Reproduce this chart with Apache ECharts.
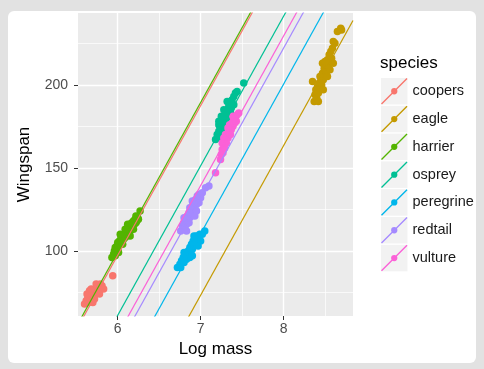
<!DOCTYPE html>
<html>
<head>
<meta charset="utf-8">
<script src="https://cdn.jsdelivr.net/npm/echarts@6/dist/echarts.min.js"></script>
<style>
  html, body { margin: 0; padding: 0; background: #e2e2e2; }
  #chart { width: 484px; height: 369px; }
</style>
</head>
<body>
<div id="chart"></div>
<script>
// species and colours (ggplot hue palette)
var species = ['coopers', 'eagle', 'harrier', 'osprey', 'peregrine', 'redtail', 'vulture'];
var colors = ['#F8766D', '#C49A00', '#53B400', '#00C094', '#00B6EB', '#A58AFF', '#FB61D7'];

// fitted lines: wingspan = intercept + slope * logmass (common slope)
var slope = 90;
var intercepts = [-442.6, -556.7, -440.7, -478.8, -519.7, -498.0, -490.7];

// axis ranges and ticks
var xRange = [5.521, 8.838];
var yRange = [60.8, 243.2];
var xTicks = [6, 7, 8];
var xMinor = [6.5, 7.5, 8.5];
var yTicks = [100, 150, 200];
var yMinor = [75, 125, 175, 225];

// points [log mass, wingspan]
var coopersPts = [[5.62,70],[5.64,72],[5.65,69],[5.66,74],[5.67,71],[5.68,73],[5.69,75],[5.70,72],[5.71,76],[5.72,74],[5.73,77],[5.74,75],[5.75,78],[5.76,76],[5.77,79],[5.78,77],[5.79,80],[5.80,78],[5.81,79],[5.83,77],[5.94,85],[5.66,76],[5.70,69],[5.63,74],[5.68,77],[5.74,80],[5.78,74],[5.72,71],[5.60,68]];
var eaglePts = [[8.35,202],[8.37,190],[8.38,194],[8.39,197],[8.40,192],[8.41,199],[8.42,195],[8.43,201],[8.44,198],[8.45,204],[8.46,200],[8.47,207],[8.48,203],[8.49,210],[8.50,206],[8.51,212],[8.52,208],[8.53,215],[8.54,211],[8.55,218],[8.56,214],[8.57,220],[8.58,216],[8.59,222],[8.60,213],[8.62,225],[8.65,232],[8.69,234],[8.70,233],[8.53,205],[8.47,213],[8.44,205],[8.50,214],[8.56,209],[8.42,190],[8.60,226],[8.48,197]];
var harrierPts = [[5.93,96],[5.95,98],[5.96,100],[5.97,102],[5.98,99],[5.99,103],[6.00,101],[6.00,105],[6.01,103],[6.02,106],[6.03,104],[6.04,108],[6.05,105],[6.06,109],[6.07,107],[6.08,110],[6.09,108],[6.10,112],[6.11,110],[6.12,113],[6.13,111],[6.14,114],[6.15,112],[6.15,116],[6.16,114],[6.17,117],[6.18,115],[6.19,118],[6.20,116],[6.21,119],[6.22,117],[6.23,118],[6.24,120],[6.25,119],[6.27,124],[6.06,104],[6.12,116],[6.19,113],[5.97,97],[6.03,110],[6.09,113],[6.15,109],[6.22,121],[6.01,99]];
var ospreyPts = [[7.18,167],[7.20,170],[7.21,168],[7.22,172],[7.23,175],[7.24,171],[7.25,177],[7.26,174],[7.27,179],[7.28,176],[7.29,181],[7.30,178],[7.30,183],[7.31,180],[7.32,185],[7.33,182],[7.34,187],[7.35,184],[7.36,189],[7.37,186],[7.38,191],[7.40,188],[7.40,193],[7.44,196],[7.52,201],[7.25,181],[7.22,176],[7.33,178],[7.22,178],[7.28,185],[7.36,183],[7.27,170],[7.42,195],[7.32,190]];
var peregrinePts = [[6.72,90],[6.75,92],[6.77,94],[6.79,96],[6.80,93],[6.82,98],[6.83,95],[6.85,100],[6.86,97],[6.87,102],[6.88,99],[6.89,104],[6.90,101],[6.91,106],[6.92,103],[6.93,108],[6.94,105],[6.95,109],[6.97,107],[6.99,110],[7.02,110],[7.05,112],[6.84,96],[6.90,97],[6.80,99],[6.87,96],[6.92,109],[6.97,103],[6.76,90],[7.00,106]];
var redtailPts = [[6.76,112],[6.78,115],[6.79,113],[6.80,117],[6.81,114],[6.82,119],[6.83,116],[6.84,121],[6.85,118],[6.86,123],[6.87,120],[6.88,125],[6.89,122],[6.90,127],[6.91,124],[6.92,129],[6.93,126],[6.94,131],[6.95,128],[6.96,133],[6.97,130],[6.98,134],[7.00,132],[7.02,135],[7.06,138],[7.10,139],[6.87,126],[6.93,121],[6.80,120],[6.86,117],[6.90,130],[6.95,124],[6.83,112],[6.98,129]];
var vulturePts = [[7.18,147],[7.24,155],[7.25,158],[7.26,161],[7.27,159],[7.28,164],[7.29,162],[7.30,167],[7.31,165],[7.32,170],[7.33,168],[7.34,172],[7.35,170],[7.36,175],[7.37,173],[7.38,177],[7.39,175],[7.40,179],[7.41,177],[7.42,180],[7.44,182],[7.46,183],[7.35,176],[7.30,170],[7.28,168],[7.33,174],[7.39,181],[7.36,170],[7.43,178],[7.26,165]];
var points = [coopersPts, eaglePts, harrierPts, ospreyPts, peregrinePts, redtailPts, vulturePts];

var font = 'Liberation Sans, Arial, sans-serif';
// legend key icon: diagonal line with a dot
var keyIcon = 'path://M0,26 L26,0 L27,1 L1,27 Z M10.3,13.5 A3.2,3.2 0 1 1 16.7,13.5 A3.2,3.2 0 1 1 10.3,13.5 Z';
var legTop = 78, legStep = 27.8, keySize = 26.5;

var series = [];
species.forEach(function (s, i) {
    series.push({
        name: s, type: 'scatter', data: points[i], symbolSize: 7.5,
        itemStyle: { color: colors[i], opacity: 1 }, z: 2
    });
});
species.forEach(function (s, i) {
    series.push({
        name: s, type: 'line', showSymbol: false, silent: true, z: 3,
        data: [[xRange[0], intercepts[i] + slope * xRange[0]], [xRange[1], intercepts[i] + slope * xRange[1]]],
        lineStyle: { color: colors[i], width: 1.2 }, itemStyle: { color: colors[i] }
    });
});

var keyBoxes = species.map(function (s, i) {
    return { type: 'rect', left: 381, top: legTop + i * legStep, z: 0,
        shape: { width: keySize, height: keySize }, style: { fill: '#F2F2F2' } };
});

var option = {
    animation: false,
    backgroundColor: '#e2e2e2',
    graphic: [{ type: 'rect', left: 8, top: 11, z: -10,
        shape: { width: 468, height: 352, r: 6 }, style: { fill: '#ffffff' } }].concat(keyBoxes),
    title: { text: 'species', left: 375, top: 50,
        textStyle: { fontFamily: font, fontSize: 17, fontWeight: 'normal', color: '#000' } },
    legend: {
        orient: 'vertical', left: 376, top: legTop - 5, itemWidth: keySize, itemHeight: keySize,
        itemGap: legStep - keySize, icon: keyIcon, z: 5,
        data: species,
        textStyle: { fontFamily: font, fontSize: 14.5, color: '#1a1a1a' }
    },
    grid: { left: 78, top: 13, right: 131, bottom: 53, show: true, backgroundColor: '#EBEBEB', borderWidth: 0 },
    xAxis: [{
        type: 'value', min: xRange[0], max: xRange[1],
        name: 'Log mass', nameLocation: 'middle', nameGap: 25,
        nameTextStyle: { fontFamily: font, fontSize: 17, color: '#000' },
        axisLine: { show: false },
        axisTick: { show: true, length: 4, customValues: xTicks, lineStyle: { color: '#333', width: 1 } },
        axisLabel: { customValues: xTicks, margin: 6, fontFamily: font, fontSize: 14, color: '#4D4D4D' },
        splitLine: { show: true, lineStyle: { color: '#fff', width: 1.4 } }
    }, {
        type: 'value', min: xRange[0], max: xRange[1], position: 'bottom',
        axisLine: { show: false }, axisLabel: { show: false },
        axisTick: { show: false, customValues: xMinor },
        splitLine: { show: true, lineStyle: { color: '#fff', width: 0.7 } }
    }],
    yAxis: [{
        type: 'value', min: yRange[0], max: yRange[1],
        name: 'Wingspan', nameLocation: 'middle', nameGap: 45,
        nameTextStyle: { fontFamily: font, fontSize: 17, color: '#000' },
        axisLine: { show: false },
        axisTick: { show: true, length: 4, customValues: yTicks, lineStyle: { color: '#333', width: 1 } },
        axisLabel: { customValues: yTicks, margin: 10, fontFamily: font, fontSize: 14, color: '#4D4D4D' },
        splitLine: { show: true, lineStyle: { color: '#fff', width: 1.4 } }
    }, {
        type: 'value', min: yRange[0], max: yRange[1], position: 'left',
        axisLine: { show: false }, axisLabel: { show: false },
        axisTick: { show: false, customValues: yMinor },
        splitLine: { show: true, lineStyle: { color: '#fff', width: 0.7 } }
    }],
    series: series
};

echarts.init(document.getElementById('chart')).setOption(option);
</script>
</body>
</html>
